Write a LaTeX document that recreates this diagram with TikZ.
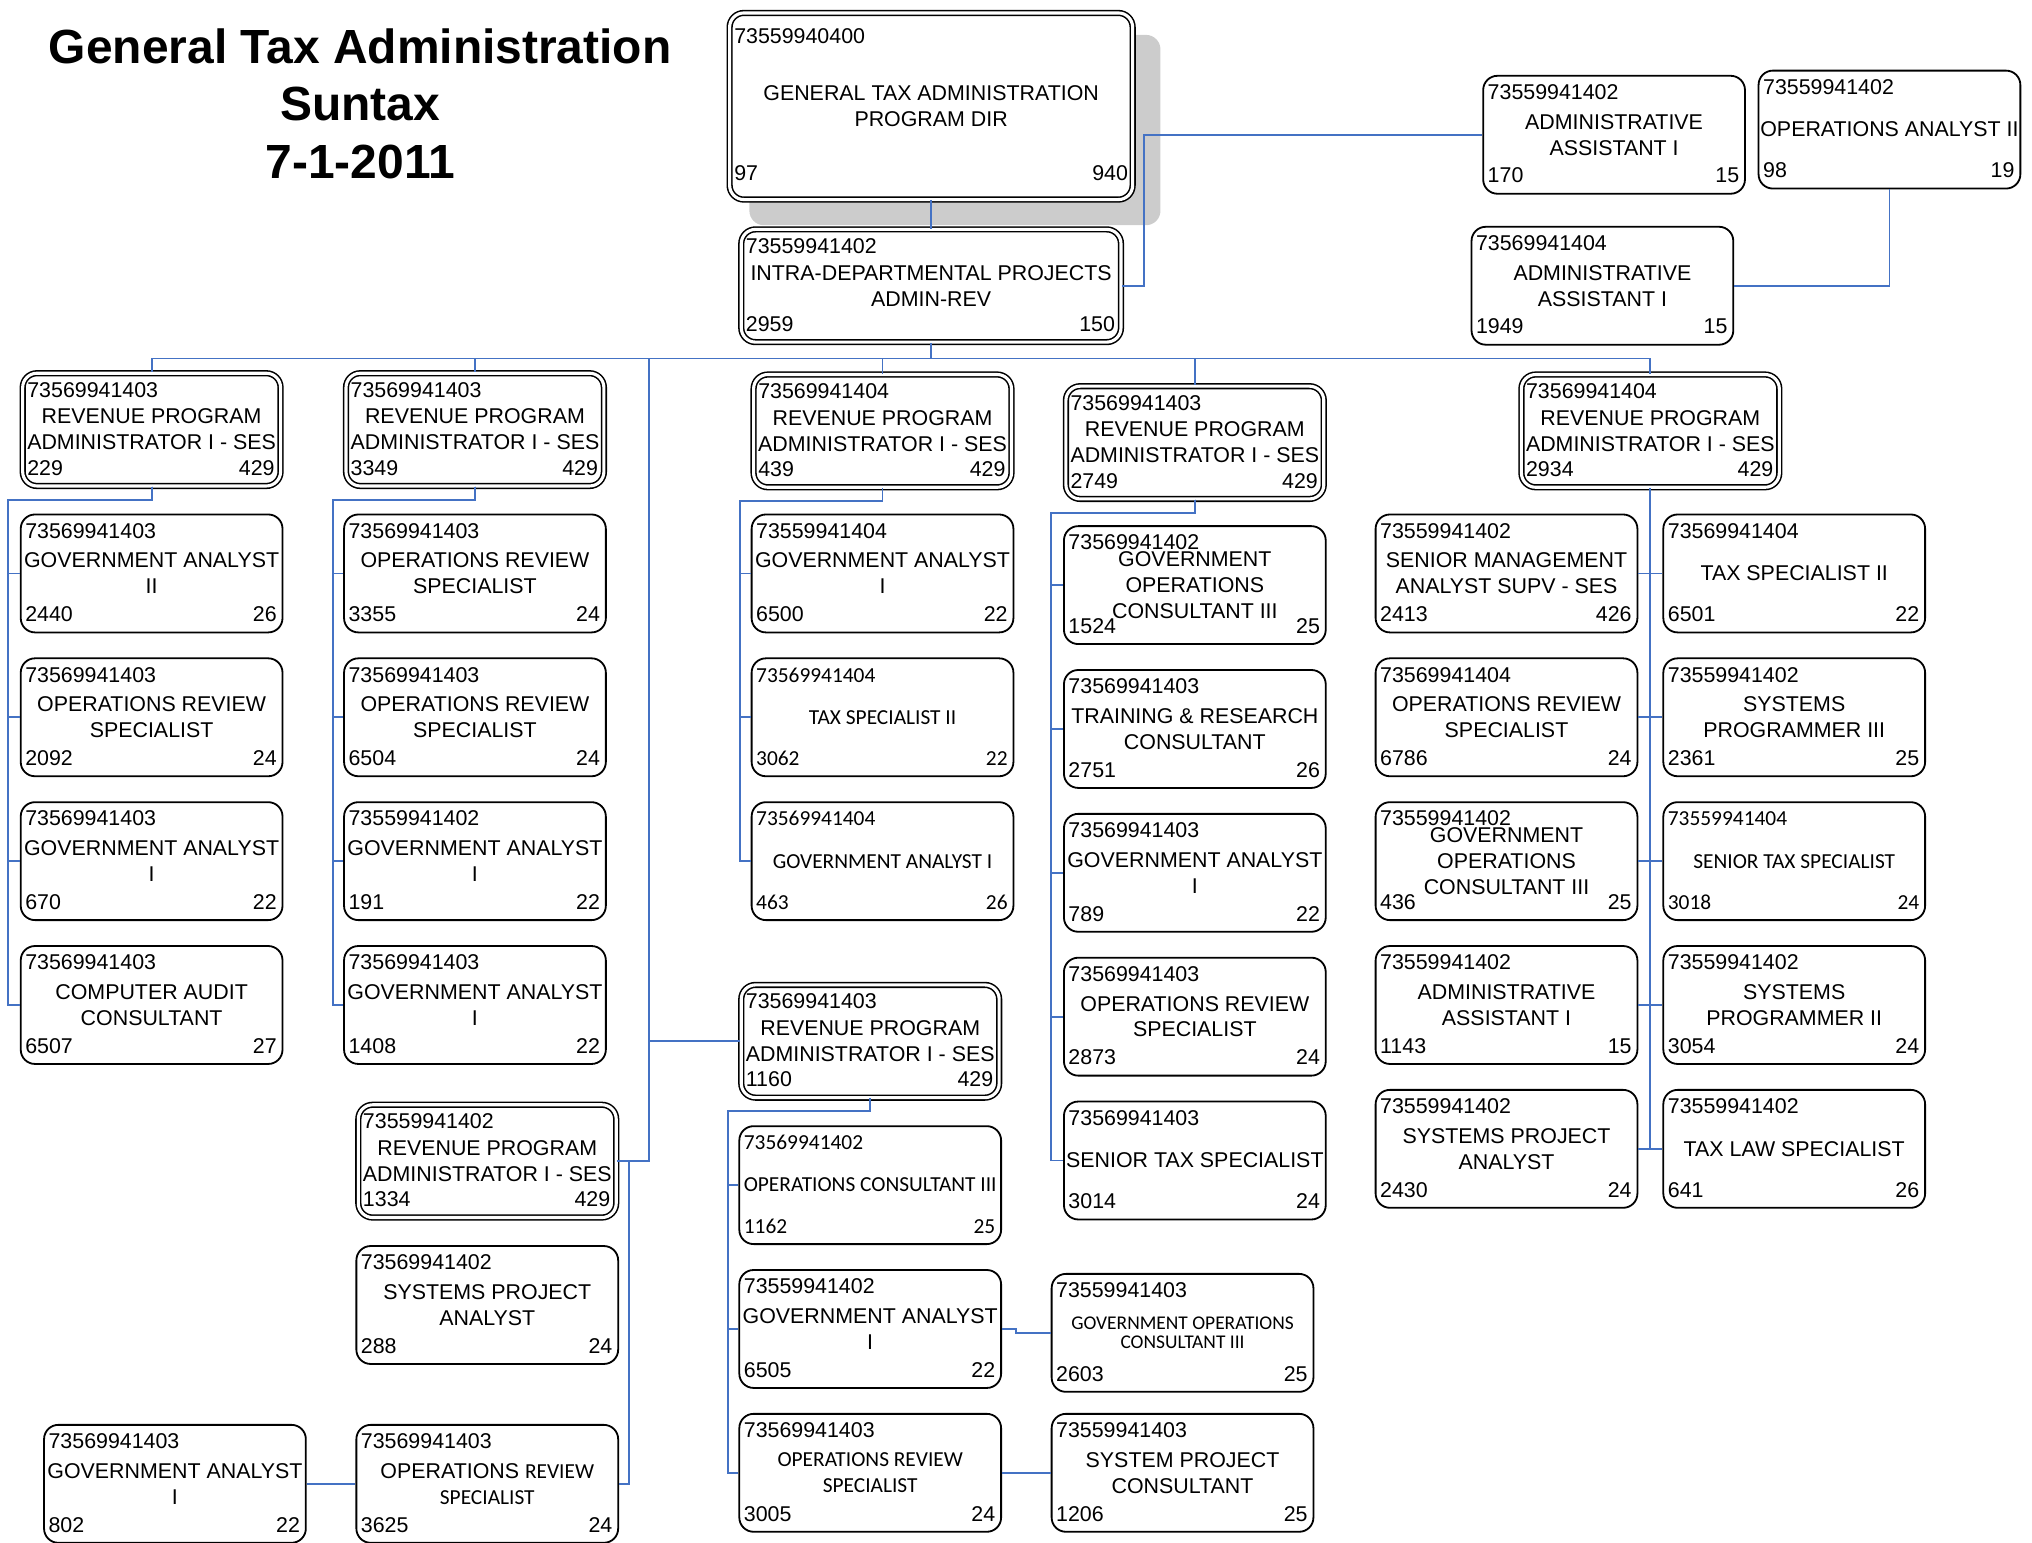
\documentclass[tikz,border=0pt]{standalone}
\usepackage{fontspec}
\setmainfont{Liberation Sans}
\newfontfamily\calfont{Carlito}
\usepackage{tikz}
\usetikzlibrary{shadows}
\definecolor{linkblue}{RGB}{68,114,196}

% one position: [text font] name, centre, box options, id, title, left no, right no
\newcommand\orgbox[8][]{%
  \node[card,#4,#1] (#2) at (#3) {#6};
  \node[tag,anchor=base west,#1] (#2-id) at ([xshift=4pt,yshift=-19pt]#2.north west) {#5};
  \node[tag,anchor=base west,#1] (#2-no) at ([xshift=4pt,yshift=9pt]#2.south west) {#7};
  \node[tag,anchor=base east,#1] (#2-gr) at ([xshift=-5pt,yshift=9pt]#2.south east) {#8};
}

\begin{document}
\begin{tikzpicture}[x=1pt,y=-1pt]
	\tikzstyle{card}=[draw, rounded corners=11pt, line width=1.4pt, fill=white, minimum width=202pt, minimum height=91pt, inner sep=0pt, align=center, font=\fontsize{16.5}{20}\selectfont]
	\tikzstyle{mgr}=[double, double distance=2.4pt, line width=1.2pt, minimum width=199pt, minimum height=87pt]
	\tikzstyle{tag}=[inner sep=0pt, font=\fontsize{16.5}{20}\selectfont]
	\tikzstyle{cal}=[font=\calfont\fontsize{16.5}{20}\selectfont]
	\tikzstyle{calsmall}=[font=\calfont\fontsize{15}{15}\selectfont]
	\tikzstyle{link}=[draw=linkblue, line width=1.4pt]

	\useasboundingbox (0,0) rectangle (1568,1190);

	\node[font=\bfseries\fontsize{37}{44.5}\selectfont, align=center] (title) at (278,80) {General Tax Administration\\Suntax\\7-1-2011};

	% director
	\node[card, mgr, minimum width=311pt, minimum height=144pt, drop shadow={fill=gray!40, opacity=1, shadow xshift=18pt, shadow yshift=-18pt, shadow scale=1.02}] (dir) at (718.5,82) {GENERAL TAX ADMINISTRATION\\PROGRAM DIR};
	\node[tag, anchor=base west] (dir-id) at ([xshift=4pt,yshift=-24pt]dir.north west) {73559940400};
	\node[tag, anchor=base west] (dir-no) at ([xshift=4pt,yshift=15pt]dir.south west) {97};
	\node[tag, anchor=base east] (dir-gr) at ([xshift=-4pt,yshift=15pt]dir.south east) {940};

	\orgbox{intra}{718.5,220.5}{mgr, minimum width=293pt}{73559941402}{INTRA-DEPARTMENTAL PROJECTS\\ADMIN-REV}{2959}{150}
	\orgbox{aa1}{1245.5,104}{}{73559941402}{ADMINISTRATIVE\\ASSISTANT I}{170}{15}
	\orgbox{oa2}{1458,100}{}{73559941402}{OPERATIONS ANALYST II}{98}{19}
	\orgbox{aa2}{1236.5,220.5}{}{73569941404}{ADMINISTRATIVE\\ASSISTANT I}{1949}{15}

	% first section
	\orgbox{m1}{117,331.5}{mgr}{73569941403}{REVENUE PROGRAM\\ADMINISTRATOR I - SES}{229}{429}
	\orgbox{c11}{117,442.5}{}{73569941403}{GOVERNMENT ANALYST\\II}{2440}{26}
	\orgbox{c12}{117,553.5}{}{73569941403}{OPERATIONS REVIEW\\SPECIALIST}{2092}{24}
	\orgbox{c13}{117,664.5}{}{73569941403}{GOVERNMENT ANALYST\\I}{670}{22}
	\orgbox{c14}{117,775.5}{}{73569941403}{COMPUTER AUDIT\\CONSULTANT}{6507}{27}

	% second section
	\orgbox{m2}{366.5,331.5}{mgr}{73569941403}{REVENUE PROGRAM\\ADMINISTRATOR I - SES}{3349}{429}
	\orgbox{c21}{366.5,442.5}{}{73569941403}{OPERATIONS REVIEW\\SPECIALIST}{3355}{24}
	\orgbox{c22}{366.5,553.5}{}{73569941403}{OPERATIONS REVIEW\\SPECIALIST}{6504}{24}
	\orgbox{c23}{366.5,664.5}{}{73559941402}{GOVERNMENT ANALYST\\I}{191}{22}
	\orgbox{c24}{366.5,775.5}{}{73569941403}{GOVERNMENT ANALYST\\I}{1408}{22}

	\orgbox{m2b}{376,896}{mgr}{73559941402}{REVENUE PROGRAM\\ADMINISTRATOR I - SES}{1334}{429}
	\orgbox{c2b1}{376,1007}{}{73569941402}{SYSTEMS PROJECT\\ANALYST}{288}{24}
	\orgbox{c2b2}{376,1145}{}{73569941403}{OPERATIONS {\calfont REVIEW}\\{\calfont SPECIALIST}}{3625}{24}
	\orgbox{c2b3}{135,1145}{}{73569941403}{GOVERNMENT ANALYST\\I}{802}{22}

	% third section
	\orgbox{m3}{681,332.5}{mgr}{73569941404}{REVENUE PROGRAM\\ADMINISTRATOR I - SES}{439}{429}
	\orgbox{c31}{681,442.5}{}{73559941404}{GOVERNMENT ANALYST\\I}{6500}{22}
	\orgbox[cal]{c32}{681,553.5}{}{73569941404}{TAX SPECIALIST II}{3062}{22}
	\orgbox[cal]{c33}{681,664.5}{}{73569941404}{GOVERNMENT ANALYST I}{463}{26}

	\orgbox{m3b}{671.5,803.5}{mgr}{73569941403}{REVENUE PROGRAM\\ADMINISTRATOR I - SES}{1160}{429}
	\orgbox[cal]{c3b1}{671.5,914.5}{}{73569941402}{OPERATIONS CONSULTANT III}{1162}{25}
	\orgbox{c3b2}{671.5,1025.5}{}{73559941402}{GOVERNMENT ANALYST\\I}{6505}{22}
	\orgbox{c3b3}{671.5,1136.5}{cal}{73569941403}{OPERATIONS REVIEW\\SPECIALIST}{3005}{24}
	\orgbox{d3b1}{912.5,1028.5}{calsmall}{73559941403}{GOVERNMENT OPERATIONS\\CONSULTANT III}{2603}{25}
	\orgbox{d3b2}{912.5,1136.5}{}{73559941403}{SYSTEM PROJECT\\CONSULTANT}{1206}{25}

	% fourth section
	\orgbox{m4}{922,341.5}{mgr}{73569941403}{REVENUE PROGRAM\\ADMINISTRATOR I - SES}{2749}{429}
	\orgbox{c41}{922,451.5}{}{73569941402}{GOVERNMENT\\OPERATIONS\\CONSULTANT III}{1524}{25}
	\orgbox{c42}{922,562.5}{}{73569941403}{TRAINING \& RESEARCH\\CONSULTANT}{2751}{26}
	\orgbox{c43}{922,673.5}{}{73569941403}{GOVERNMENT ANALYST\\I}{789}{22}
	\orgbox{c44}{922,784.5}{}{73569941403}{OPERATIONS REVIEW\\SPECIALIST}{2873}{24}
	\orgbox{c45}{922,895.5}{}{73569941403}{SENIOR TAX SPECIALIST}{3014}{24}

	% fifth section
	\orgbox{m5}{1273.5,332.5}{mgr}{73569941404}{REVENUE PROGRAM\\ADMINISTRATOR I - SES}{2934}{429}
	\orgbox{l1}{1162.5,442.5}{}{73559941402}{SENIOR MANAGEMENT\\ANALYST SUPV - SES}{2413}{426}
	\orgbox{l2}{1162.5,553.5}{}{73569941404}{OPERATIONS REVIEW\\SPECIALIST}{6786}{24}
	\orgbox{l3}{1162.5,664.5}{}{73559941402}{GOVERNMENT\\OPERATIONS\\CONSULTANT III}{436}{25}
	\orgbox{l4}{1162.5,775.5}{}{73559941402}{ADMINISTRATIVE\\ASSISTANT I}{1143}{15}
	\orgbox{l5}{1162.5,886.5}{}{73559941402}{SYSTEMS PROJECT\\ANALYST}{2430}{24}
	\orgbox{r1}{1384.5,442.5}{}{73569941404}{TAX SPECIALIST II}{6501}{22}
	\orgbox{r2}{1384.5,553.5}{}{73559941402}{SYSTEMS\\PROGRAMMER III}{2361}{25}
	\orgbox[cal]{r3}{1384.5,664.5}{}{73559941404}{SENIOR TAX SPECIALIST}{3018}{24}
	\orgbox{r4}{1384.5,775.5}{}{73559941402}{SYSTEMS\\PROGRAMMER II}{3054}{24}
	\orgbox{r5}{1384.5,886.5}{}{73559941402}{TAX LAW SPECIALIST}{641}{26}

	% connectors
	\draw[link] (dir.south) -- (intra.north);
	\draw[link] (intra.east) -- ++(17,0) |- (aa1.west);
	\draw[link] (oa2.south) |- (aa2.east);

	\coordinate (bus) at ([yshift=-12pt]intra.south);
	\coordinate (drop) at (501,0 |- bus);
	\draw[link] (intra.south) -- (bus);
	\foreach \m in {m1,m2,m3,m4,m5}
		\draw[link] (bus) -| (\m.north);
	\draw[link] (drop) |- (m2b.east);
	\draw[link] (m3b.west) -| (drop);

	\foreach \k in {c11,c12,c13,c14}
		\draw[link] (m1.south) -- ++(0,10) -| ([xshift=-9pt]\k.west) -- (\k.west);
	\foreach \k in {c21,c22,c23,c24}
		\draw[link] (m2.south) -- ++(0,10) -| ([xshift=-8pt]\k.west) -- (\k.west);
	\foreach \k in {c31,c32,c33}
		\draw[link] (m3.south) -- ++(0,10) -| ([xshift=-8pt]\k.west) -- (\k.west);
	\foreach \k in {c3b1,c3b2,c3b3}
		\draw[link] (m3b.south) -- ++(0,10) -| ([xshift=-8pt]\k.west) -- (\k.west);
	\foreach \k in {c41,c42,c43,c44,c45}
		\draw[link] (m4.south) -- ++(0,10) -| ([xshift=-9pt]\k.west) -- (\k.west);
	\foreach \k in {l1,l2,l3,l4,l5}
		\draw[link] (m5.south) |- (\k.east);
	\foreach \k in {r1,r2,r3,r4,r5}
		\draw[link] (m5.south) |- (\k.west);

	\draw[link] (m2b.east) -- ++(9,0) |- (c2b2.east);
	\draw[link] (c2b3.east) -- (c2b2.west);
	\draw[link] (c3b2.east) -- ++(11,0) |- (d3b1.west);
	\draw[link] (c3b3.east) -- (d3b2.west);
\end{tikzpicture}
\end{document}
